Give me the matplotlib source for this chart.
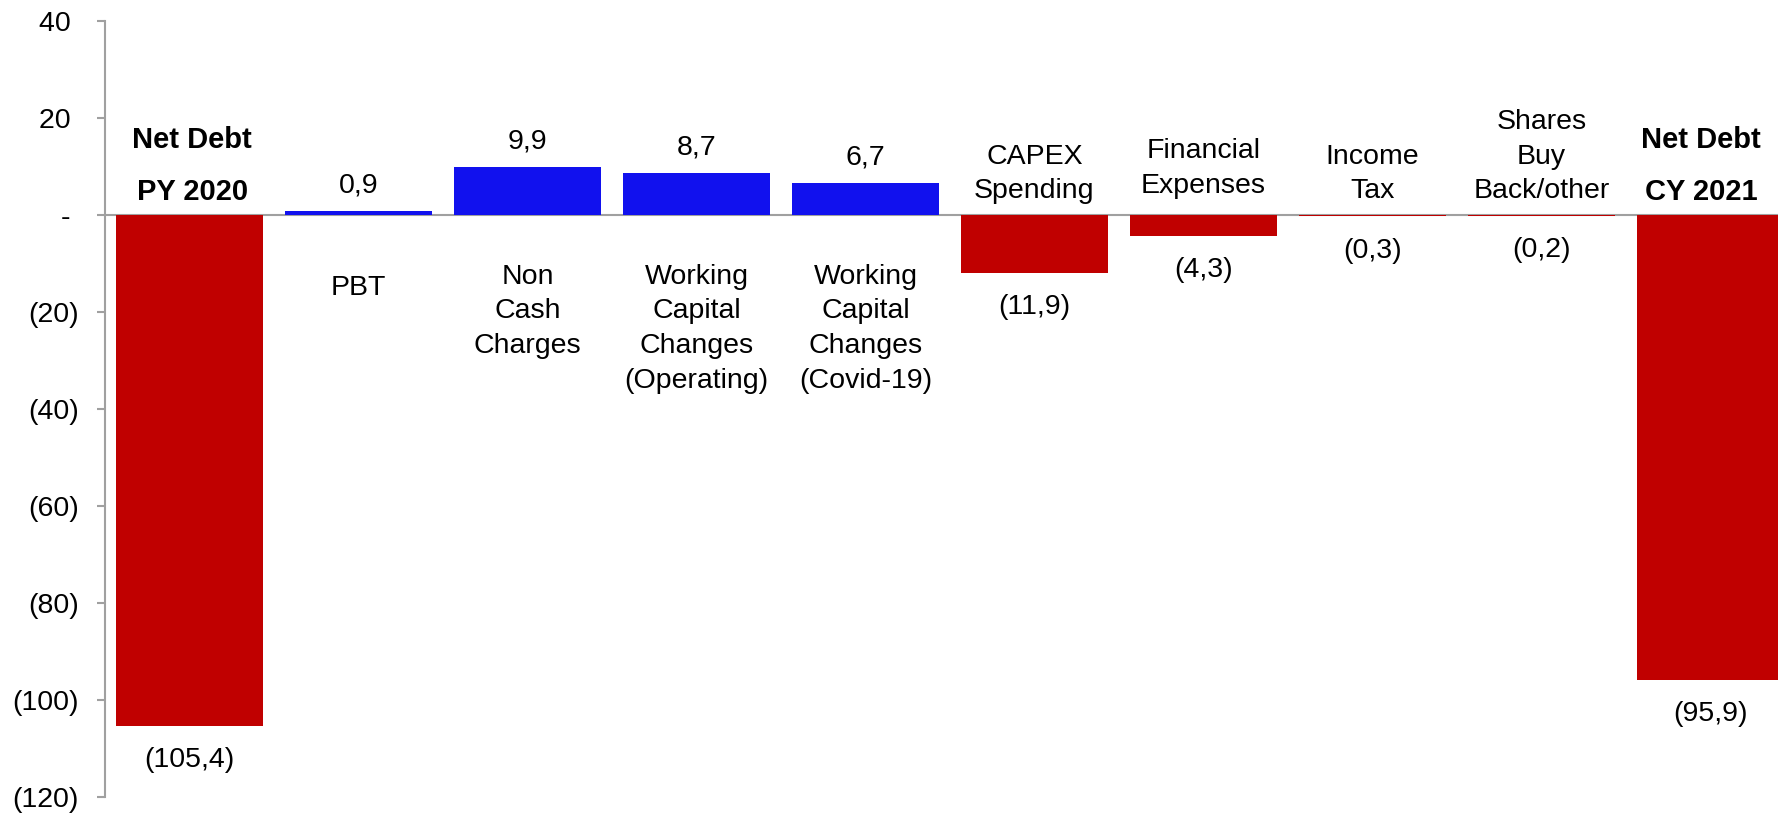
import matplotlib
matplotlib.use("Agg")
import matplotlib.pyplot as plt
from matplotlib.ticker import FixedLocator, FuncFormatter
from matplotlib.transforms import offset_copy

plt.rcParams['font.family'] = ['Liberation Sans', 'DejaVu Sans']

categories = ["Net Debt\nPY 2020", "PBT", "Non\nCash\nCharges",
              "Working\nCapital\nChanges\n(Operating)",
              "Working\nCapital\nChanges\n(Covid-19)",
              "CAPEX\nSpending", "Financial\nExpenses", "Income\nTax",
              "Shares\nBuy\nBack/other", "Net Debt\nCY 2021"]
values = [-105.4, 0.9, 9.9, 8.7, 6.7, -11.9, -4.3, -0.3, -0.2, -95.9]
is_total = [True, False, False, False, False, False, False, False, False, True]
yticks = [-120, -100, -80, -60, -40, -20, 0, 20, 40]

# small label nudges (layout only, in points)
label_nudge = {"PBT": (0, -8.5), "Financial\nExpenses": (0, 4),
               "Net Debt\nCY 2021": (-6.5, 0), "Net Debt\nPY 2020": (2, 0)}

RED = "#C00000"
BLUE = "#1111EE"
GRAY = "#A0A0A0"
FS = 20.5


def fmt_val(v):
    s = f"{abs(v):.1f}".replace(".", ",")
    return f"({s})" if v < 0 else s


def fmt_tick(v, pos=None):
    if v == 0:
        return "- "
    return f"({abs(int(v))})" if v < 0 else f"{int(v)} "


fig = plt.figure(figsize=(17.78, 8.16), dpi=100)
ax = fig.add_axes([0.059, 0.0233, 0.941, 0.9509])

x = list(range(len(values)))
colors = [RED if v < 0 else BLUE for v in values]
ax.bar(x, values, width=0.87, color=colors, zorder=2)
ax.axhline(0, color=GRAY, lw=1.5, zorder=1)

ax.set_xlim(-0.5, 9.4)
ax.set_ylim(-120, 40)

for s in ["top", "right", "bottom"]:
    ax.spines[s].set_visible(False)
ax.spines["left"].set_color(GRAY)
ax.spines["left"].set_linewidth(1.5)
ax.set_xticks([])
ax.yaxis.set_major_locator(FixedLocator(yticks))
ax.yaxis.set_major_formatter(FuncFormatter(fmt_tick))
ax.tick_params(axis="y", length=6, width=1.5, color=GRAY, pad=13, labelsize=FS)

for xi, v, lab, tot in zip(x, values, categories, is_total):
    # value labels
    if v >= 0:
        ax.annotate(fmt_val(v), (xi, v), xytext=(0, 13.0), textcoords="offset points",
                    ha="center", va="baseline", fontsize=FS)
    else:
        ax.annotate(fmt_val(v), (xi, v), xytext=(0, -24.5), textcoords="offset points",
                    ha="center", va="center", fontsize=FS)
    # category labels
    dx, dy = label_nudge.get(lab, (0, 0))
    tr = offset_copy(ax.transData, fig=fig, x=dx, y=dy, units="points")
    if tot:
        ax.text(xi, 1.8, lab, ha="center", va="bottom", fontsize=21,
                fontweight="bold", linespacing=2.11, transform=tr)
    elif v >= 0:
        ax.text(xi, -10.0, lab, ha="center", va="top", fontsize=FS,
                linespacing=1.435, transform=tr)
    else:
        ax.text(xi, 2.2, lab, ha="center", va="bottom", fontsize=FS,
                linespacing=1.435, transform=tr)

fig.savefig("out.png", dpi=100)
